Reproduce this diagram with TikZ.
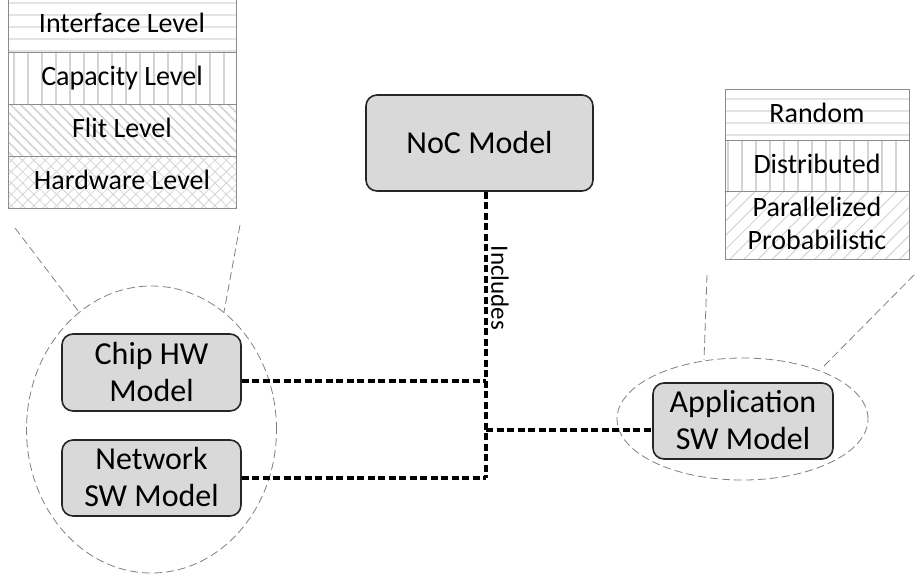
\documentclass[tikz,border=0pt]{standalone}
\usepackage{fontspec}
\setmainfont{Carlito}
\usetikzlibrary{shapes.geometric,patterns.meta}

\definecolor{boxfill}{HTML}{D9D9D9}
\definecolor{boxedge}{HTML}{262626}
\definecolor{layeredge}{HTML}{8C8C8C}
\definecolor{hatchline}{HTML}{D4D4D4}
\definecolor{softline}{HTML}{E4E4E4}
\definecolor{guide}{HTML}{808080}

% struts that fix where the baselines sit inside the boxes
\newcommand{\mstrut}{\rule[-3pt]{0pt}{26pt}}
\newcommand{\lstrut}{\rule[-4pt]{0pt}{21pt}}

\begin{document}
\begin{tikzpicture}[x=1pt,y=-1pt,
  model/.style={draw=boxedge, line width=1.6pt, fill=boxfill, rounded corners=11pt,
    inner sep=0pt, align=center, font=\fontsize{32}{37}\selectfont},
  layer/.style={draw=layeredge, line width=0.8pt, inner sep=0pt, align=center,
    font=\fontsize{28}{33}\selectfont},
  zone/.style={draw=guide, line width=0.8pt, dash pattern=on 8pt off 4pt},
  link/.style={draw=black, line width=3.6pt, dash pattern=on 7pt off 3.5pt},
  hlines/.style={pattern={Lines[angle=0,distance=12pt,line width=1.2pt]}, pattern color=softline},
  vlines/.style={pattern={Lines[angle=90,distance=14pt,line width=1.2pt]}, pattern color=hatchline},
  backdiag/.style={pattern={Lines[angle=-45,distance=7pt,line width=1.6pt]}, pattern color=hatchline},
  fwddiag/.style={pattern={Lines[angle=45,distance=10pt,line width=1pt]}, pattern color=hatchline},
  cross/.style={pattern={Hatch[angle=45,distance=8pt,line width=0.8pt]}, pattern color=hatchline},
]
\useasboundingbox (0,0) rectangle (915,579);

% abstraction levels of the hardware side
\node[layer, hlines, minimum width=228pt, minimum height=54pt] (lif) at (122,25) {\lstrut Interface Level};
\node[layer, vlines, minimum width=228pt, minimum height=52pt] (lcap) at (122,78) {\lstrut Capacity Level};
\node[layer, backdiag, minimum width=228pt, minimum height=52pt] (lflit) at (122,130) {\lstrut Flit Level};
\node[layer, cross, minimum width=228pt, minimum height=52pt] (lhw) at (122,182) {\lstrut Hardware Level};

% application traffic kinds
\node[layer, hlines, minimum width=184pt, minimum height=51pt] (trand) at (817,114.5) {\lstrut Random};
\node[layer, vlines, minimum width=184pt, minimum height=51pt] (tdist) at (817,165.5) {\lstrut Distributed};
\node[layer, fwddiag, minimum width=184pt, minimum height=68pt] (tpar) at (817,225) {\lstrut Parallelized\\Probabilistic\lstrut};

% grouping ellipses
\node[ellipse, zone, inner sep=0pt, minimum width=250pt, minimum height=287pt] (lgroup) at (151.5,429.5) {};
\node[ellipse, zone, inner sep=0pt, minimum width=251pt, minimum height=122pt] (rgroup) at (742.5,419) {};

% guides from the stacks down to the ellipses
\coordinate (lg1a) at (15,228);  \coordinate (lg1b) at (79,312);
\coordinate (lg2a) at (240,225); \coordinate (lg2b) at (224,312);
\coordinate (rg1a) at (707,275); \coordinate (rg1b) at (704,360);
\coordinate (rg2a) at (914,275); \coordinate (rg2b) at (821,369);
\draw[zone] (lg1a) -- (lg1b);
\draw[zone] (lg2a) -- (lg2b);
\draw[zone] (rg1a) -- (rg1b);
\draw[zone] (rg2a) -- (rg2b);

% models
\node[model, minimum width=227pt, minimum height=96pt] (noc) at (479.5,143) {\mstrut NoC Model};
\node[model, minimum width=179pt, minimum height=77pt] (chip) at (151.5,372.5) {\mstrut Chip HW\\Model\mstrut};
\node[model, minimum width=179pt, minimum height=76pt] (net) at (151.5,478) {\mstrut Network\\SW Model\mstrut};
\node[model, minimum width=180pt, minimum height=76pt] (app) at (743,421) {\mstrut Application\\SW Model\mstrut};

% "includes" connectors
\coordinate (jc) at (486,381);
\coordinate (ja) at (486,430);
\coordinate (jn) at (486,478);
\draw[link] (noc.south -| jn) -- (jn);
\draw[link] (chip.east |- jc) -- (jc);
\draw[link] (net.east |- jn) -- (jn);
\draw[link] (ja) -- (app.west |- ja);
\node[rotate=-90, inner sep=0pt, font=\fontsize{25}{30}\selectfont] (inc) at (500,288) {Includes};
\end{tikzpicture}
\end{document}
